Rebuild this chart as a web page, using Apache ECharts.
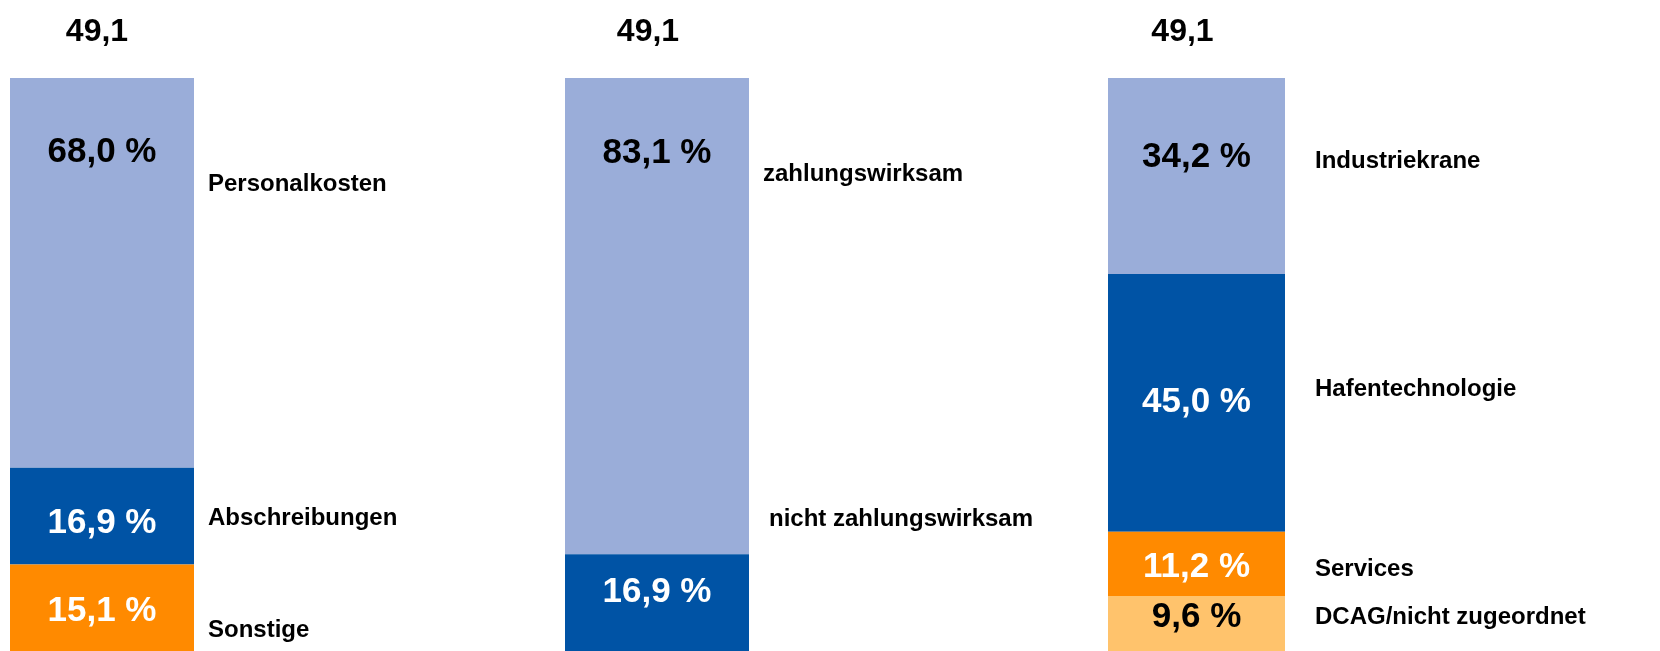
<!DOCTYPE html>
<html>
<head>
<meta charset="utf-8">
<script src="https://cdn.jsdelivr.net/npm/echarts@6/dist/echarts.min.js"></script>
<style>
html,body{margin:0;padding:0;background:#fff;overflow:hidden;}
#chart{width:1660px;height:651px;}
</style>
</head>
<body>
<div id="chart"></div>
<script>
// ---- data ----
const panelKeys = ['Kostenstruktur', 'Zahlungswirksamkeit', 'Segmente'];
const totals = [49.1, 49.1, 49.1];

const namesA = ['Personalkosten', 'Abschreibungen', 'Sonstige'];
const valuesA = [68.0, 16.9, 15.1];

const namesB = ['zahlungswirksam', 'nicht zahlungswirksam'];
const valuesB = [83.1, 16.9];

const namesC = ['Industriekrane', 'Hafentechnologie', 'Services', 'DCAG/nicht zugeordnet'];
const valuesC = [34.2, 45.0, 11.2, 9.6];

// ---- styling / layout (not data) ----
const LIGHT = '#9AADD9', DARK = '#0053A5', ORANGE = '#FF8A00', PALE = '#FFC36C';
const FONT = '"Liberation Sans", Arial, Helvetica, sans-serif';
const panels = [
  { names: namesA, values: valuesA, colors: [LIGHT, DARK, ORANGE], textColors: ['#000', '#fff', '#fff'],
    grid: { left: 10, width: 184 }, nameDist: 14, totalPad: 10,
    pctNudge: [-120, 7, 4], nameNudge: [[0, -88], [0, 2], [0, 23]] },
  { names: namesB, values: valuesB, colors: [LIGHT, DARK], textColors: ['#000', '#fff'],
    grid: { left: 565, width: 184 }, nameDist: 14, totalPad: 18,
    pctNudge: [-163, -10], nameNudge: [[0, -142], [6, -83]] },
  { names: namesC, values: valuesC, colors: [LIGHT, DARK, ORANGE, PALE], textColors: ['#000', '#fff', '#fff', '#000'],
    grid: { left: 1108, width: 177 }, nameDist: 30, totalPad: 28,
    pctNudge: [-19, -1, 3, -6], nameNudge: [[0, -15], [0, -14], [0, 5], [0, -6]] }
];

const fmt = v => v.toFixed(1).replace('.', ',');

const grids = [], xAxes = [], yAxes = [], series = [];
panels.forEach((p, pi) => {
  grids.push({ left: p.grid.left, width: p.grid.width, top: 78, bottom: 0, containLabel: false });
  xAxes.push({
    type: 'category', gridIndex: pi, data: [panelKeys[pi]], position: 'top',
    axisLine: { show: false }, axisTick: { show: false },
    axisLabel: {
      margin: 30, formatter: () => fmt(totals[pi]),
      fontFamily: FONT, fontSize: 32, fontWeight: 'bold', color: '#000',
      padding: [0, p.totalPad, 0, 0]
    }
  });
  yAxes.push({ type: 'value', gridIndex: pi, min: 0, max: 100, inverse: true, show: false });
  p.values.forEach((v, i) => {
    series.push({
      type: 'bar', xAxisIndex: pi, yAxisIndex: pi, stack: 'seg' + pi,
      data: [v], barWidth: '100%', barGap: '-100%', silent: true,
      itemStyle: { color: p.colors[i] },
      label: {
        show: true, position: 'inside', offset: [0, p.pctNudge[i]],
        formatter: fmt(v) + ' %', color: p.textColors[i],
        fontFamily: FONT, fontSize: 35, fontWeight: 'bold'
      }
    });
  });
  p.values.forEach((v, i) => {
    series.push({
      type: 'bar', xAxisIndex: pi, yAxisIndex: pi, stack: 'name' + pi,
      data: [v], barWidth: '100%', barGap: '-100%', silent: true,
      itemStyle: { color: 'rgba(0,0,0,0)' },
      label: {
        show: true, position: 'right', distance: p.nameDist, offset: p.nameNudge[i],
        formatter: p.names[i], color: '#000',
        fontFamily: FONT, fontSize: 24, fontWeight: 'bold'
      }
    });
  });
});

const chart = echarts.init(document.getElementById('chart'), null, { renderer: 'canvas' });
chart.setOption({
  animation: false,
  backgroundColor: '#fff',
  grid: grids, xAxis: xAxes, yAxis: yAxes, series: series
});
</script>
</body>
</html>
